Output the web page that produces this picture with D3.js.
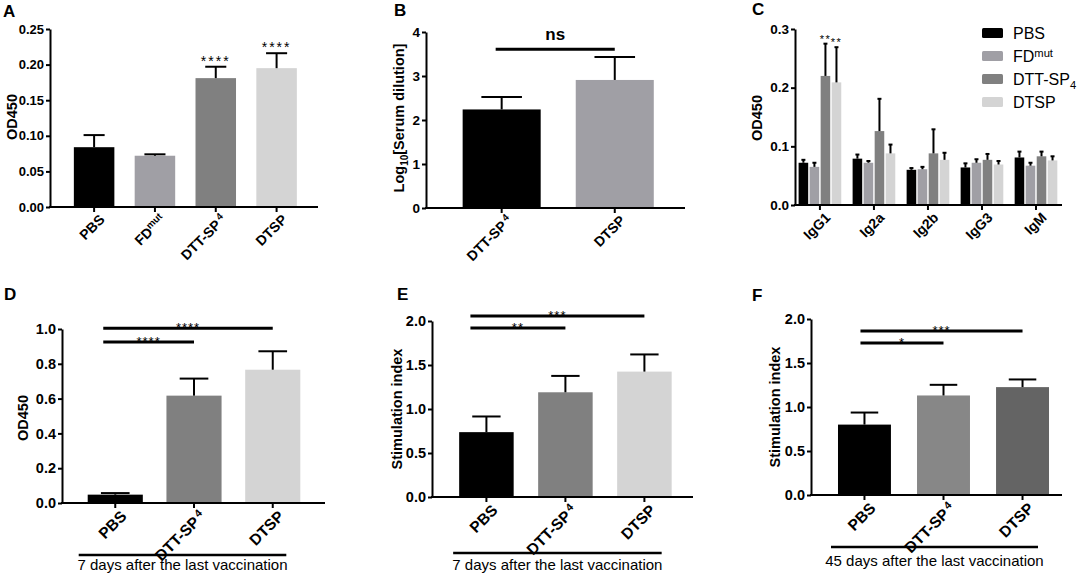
<!DOCTYPE html>
<html>
<head>
<meta charset="utf-8">
<script src="https://cdn.jsdelivr.net/npm/d3@7"></script>
<style>
  body { margin: 0; background: #fff; }
  svg { font-family: "Liberation Sans", Arial, sans-serif; }
</style>
</head>
<body>
<div class="chart"></div>
<script>
// values (bar = mean, err = top of the SEM bar)

// A - OD450
const catA = ["PBS", "FDmut", "DTT-SP4", "DTSP"];
const meanA = [0.084, 0.072, 0.181, 0.195];
const errA = [0.101, 0.074, 0.197, 0.216];
const starsA = ["", "", "****", "****"];

// B - Log10[Serum dilution]
const catB = ["DTT-SP4", "DTSP"];
const meanB = [2.24, 2.91];
const errB = [2.52, 3.43];
const sigB = [{from: "DTT-SP4", to: "DTSP", at: 3.61, text: "ns"}];

// C - subclasses, one array per group of mice
const groupsC = ["IgG1", "Ig2a", "Ig2b", "IgG3", "IgM"];
const seriesC = ["PBS", "FDmut", "DTT-SP4", "DTSP"];
const pbsC = [0.072, 0.079, 0.060, 0.064, 0.081];
const pbsErrC = [0.077, 0.086, 0.063, 0.071, 0.091];
const fdC = [0.065, 0.072, 0.061, 0.072, 0.067];
const fdErrC = [0.072, 0.075, 0.065, 0.078, 0.072];
const dttC = [0.220, 0.126, 0.088, 0.077, 0.083];
const dttErrC = [0.275, 0.181, 0.129, 0.087, 0.091];
const dtspC = [0.209, 0.088, 0.077, 0.069, 0.076];
const dtspErrC = [0.269, 0.103, 0.089, 0.075, 0.083];
const starsC = [["", "", "**", "**"], ["", "", "", ""], ["", "", "", ""], ["", "", "", ""], ["", "", "", ""]];

// D - OD450, 7 days
const catD = ["PBS", "DTT-SP4", "DTSP"];
const meanD = [0.048, 0.617, 0.766];
const errD = [0.057, 0.715, 0.872];
const sigD = [{from: "PBS", to: "DTSP", at: 1.005, text: "****"},
              {from: "PBS", to: "DTT-SP4", at: 0.925, text: "****"}];
const noteD = "7 days after the last vaccination";

// E - stimulation index, 7 days
const catE = ["PBS", "DTT-SP4", "DTSP"];
const meanE = [0.737, 1.19, 1.425];
const errE = [0.915, 1.376, 1.62];
const sigE = [{from: "PBS", to: "DTSP", at: 2.057, text: "***"},
              {from: "PBS", to: "DTT-SP4", at: 1.92, text: "**"}];
const noteE = "7 days after the last vaccination";

// F - stimulation index, 45 days
const catF = ["PBS", "DTT-SP4", "DTSP"];
const meanF = [0.80, 1.131, 1.226];
const errF = [0.937, 1.252, 1.313];
const sigF = [{from: "PBS", to: "DTSP", at: 1.864, text: "***"},
              {from: "PBS", to: "DTT-SP4", at: 1.727, text: "*"}];
const noteF = "45 days after the last vaccination";

const BLACK = "#000000", FDGREY = "#a09fa5", MIDGREY = "#808080", LIGHTGREY = "#d4d4d4";

const svg = d3.select(".chart").append("svg")
    .attr("width", 1079)
    .attr("height", 577);

// label text with a raised (or lowered) tail, e.g. FD^mut, DTT-SP4
function writeLabel(sel, key, mode) {
    let head = key, tail = null;
    if (key === "FDmut") { head = "FD"; tail = "mut"; }
    else if (key === "DTT-SP4") { head = "DTT-SP"; tail = "4"; }
    sel.append("tspan").text(head);
    if (tail) {
        sel.append("tspan")
            .attr("font-size", "70%")
            .attr("dy", mode === "sub" ? "4px" : "-5px")
            .attr("dx", key === "DTT-SP4" && mode !== "sub" ? "2px" : "0px")
            .text(tail);
    }
}

function yAxis(g, cfg, y) {
    const ax = d3.axisLeft(y)
        .tickValues(cfg.ticks)
        .tickFormat(d3.format(cfg.fmt))
        .tickSize(4)
        .tickPadding(2)
        .tickSizeOuter(0);
    const a = g.append("g")
        .attr("transform", "translate(" + cfg.x0 + ",0)")
        .call(ax);
    a.select(".domain").attr("stroke-width", 2);
    a.selectAll(".tick line").attr("stroke-width", 2);
    a.selectAll(".tick text")
        .attr("font-size", cfg.tickFont)
        .attr("font-weight", "bold")
        .attr("font-family", "Liberation Sans, Arial, sans-serif")
        .attr("fill", "#000");
}

function xAxis(g, cfg, centers, labels) {
    g.append("line")
        .attr("x1", cfg.x0 - 1).attr("x2", cfg.x1)
        .attr("y1", cfg.y0).attr("y2", cfg.y0)
        .attr("stroke", "#000").attr("stroke-width", 2);
    g.selectAll(".xtick")
        .data(centers)
        .enter().append("line")
        .attr("class", "xtick")
        .attr("x1", d => d).attr("x2", d => d)
        .attr("y1", cfg.y0).attr("y2", cfg.y0 + 5)
        .attr("stroke", "#000").attr("stroke-width", 2);
    centers.forEach((cx, i) => {
        const t = g.append("text")
            .attr("transform", "translate(" + (cx + 4) + "," + (cfg.y0 + 6) + ") rotate(-45)")
            .attr("dy", "0.75em")
            .attr("text-anchor", "end")
            .attr("font-size", cfg.catFont)
            .attr("font-weight", "bold");
        writeLabel(t, labels[i], "super");
    });
}

function titles(g, cfg) {
    g.append("text")
        .attr("x", cfg.letter[0]).attr("y", cfg.letter[1])
        .attr("font-size", 17).attr("font-weight", "bold")
        .text(cfg.name);
    const t = g.append("text")
        .attr("transform", "translate(" + cfg.ylab[0] + "," + cfg.ylab[1] + ") rotate(-90)")
        .attr("dy", "0.35em")
        .attr("text-anchor", "middle")
        .attr("font-size", 14.5)
        .attr("font-weight", "bold");
    if (cfg.ytitle === "log") {
        t.append("tspan").text("Log");
        t.append("tspan").attr("font-size", 10).attr("dy", "4px").text("10");
        t.append("tspan").attr("dy", "-4px").text("[Serum dilution]");
    } else {
        t.text(cfg.ytitle);
    }
}

function errorBar(g, x, w, yTop, yEnd, capW) {
    g.append("line")
        .attr("x1", x).attr("x2", x)
        .attr("y1", yTop).attr("y2", yEnd)
        .attr("stroke", "#000").attr("stroke-width", 2);
    g.append("line")
        .attr("x1", x - capW / 2).attr("x2", x + capW / 2)
        .attr("y1", yEnd).attr("y2", yEnd)
        .attr("stroke", "#000").attr("stroke-width", 2);
}

function drawPanel(cfg) {
    const g = svg.append("g");
    const x = d3.scaleBand()
        .domain(cfg.cats)
        .range([cfg.x0, cfg.x1])
        .paddingInner(cfg.pi)
        .paddingOuter(cfg.po)
        .align(cfg.align);
    const y = d3.scaleLinear()
        .domain([0, cfg.max])
        .range([cfg.y0, cfg.yTop]);
    const bw = x.bandwidth();

    g.selectAll(".bar")
        .data(cfg.cats)
        .enter().append("rect")
        .attr("class", "bar")
        .attr("x", d => x(d))
        .attr("y", (d, i) => y(cfg.means[i]))
        .attr("width", bw)
        .attr("height", (d, i) => cfg.y0 - y(cfg.means[i]))
        .attr("fill", (d, i) => cfg.colors[i]);

    cfg.cats.forEach((c, i) => {
        errorBar(g, x(c) + bw / 2, bw, y(cfg.means[i]), y(cfg.errs[i]), bw * 0.52);
        if (cfg.stars && cfg.stars[i]) {
            g.append("text")
                .attr("x", x(c) + bw / 2)
                .attr("y", y(cfg.errs[i]) - 1)
                .attr("text-anchor", "middle")
                .attr("font-size", 14)
                .attr("letter-spacing", "2px")
                .text(cfg.stars[i]);
        }
    });

    if (cfg.sig) {
        cfg.sig.forEach(s => {
            const xa = x(s.from) + bw / 2 + cfg.lead;
            const xb = x(s.to) + bw / 2;
            const ys = y(s.at);
            g.append("line")
                .attr("x1", xa).attr("x2", xb)
                .attr("y1", ys).attr("y2", ys)
                .attr("stroke", "#000").attr("stroke-width", 3);
            const big = s.text === "ns";
            g.append("text")
                .attr("x", (xa + xb) / 2)
                .attr("y", big ? ys - 9 : ys + 4)
                .attr("text-anchor", "middle")
                .attr("font-size", big ? 17 : 13)
                .attr("font-weight", big ? "bold" : "normal")
                .attr("letter-spacing", big ? "0px" : "1px")
                .text(s.text);
        });
    }

    yAxis(g, cfg, y);
    xAxis(g, cfg, cfg.cats.map(c => x(c) + bw / 2), cfg.cats);
    titles(g, cfg);

    if (cfg.note) {
        const xa = x(cfg.cats[0]) + cfg.bracket[0];
        const xb = x(cfg.cats[cfg.cats.length - 1]) + bw + cfg.bracket[1];
        g.append("line")
            .attr("x1", xa).attr("x2", xb)
            .attr("y1", cfg.bracket[2]).attr("y2", cfg.bracket[2])
            .attr("stroke", "#000").attr("stroke-width", 2.5);
        g.append("text")
            .attr("x", (xa + xb) / 2)
            .attr("y", cfg.bracket[3])
            .attr("text-anchor", "middle")
            .attr("font-size", 15)
            .text(cfg.note);
    }
}

function drawGrouped(cfg) {
    const g = svg.append("g");
    const x0 = d3.scaleBand()
        .domain(cfg.groups)
        .range([cfg.x0, cfg.x1])
        .paddingInner(cfg.pi)
        .paddingOuter(cfg.po)
        .align(cfg.align);
    const x1 = d3.scaleBand()
        .domain(cfg.series)
        .range([0, x0.bandwidth()])
        .padding(0.13);
    const y = d3.scaleLinear()
        .domain([0, cfg.max])
        .range([cfg.y0, cfg.yTop]);
    const bw = x1.bandwidth();

    cfg.series.forEach((s, si) => {
        g.selectAll(".bar-" + si)
            .data(cfg.groups)
            .enter().append("rect")
            .attr("x", d => x0(d) + x1(s))
            .attr("y", (d, gi) => y(cfg.means[si][gi]))
            .attr("width", bw)
            .attr("height", (d, gi) => cfg.y0 - y(cfg.means[si][gi]))
            .attr("fill", cfg.colors[si]);
        cfg.groups.forEach((grp, gi) => {
            const cx = x0(grp) + x1(s) + bw / 2;
            errorBar(g, cx, bw, y(cfg.means[si][gi]), y(cfg.errs[si][gi]), 4);
            if (cfg.stars[gi][si]) {
                g.append("text")
                    .attr("x", cx)
                    .attr("y", y(cfg.errs[si][gi]) - 1)
                    .attr("text-anchor", "middle")
                    .attr("font-size", 11)
                    .attr("letter-spacing", "1.5px")
                    .text(cfg.stars[gi][si]);
            }
        });
    });

    yAxis(g, cfg, y);
    // group labels are plain text
    g.append("line")
        .attr("x1", cfg.x0 - 1).attr("x2", cfg.x1)
        .attr("y1", cfg.y0).attr("y2", cfg.y0)
        .attr("stroke", "#000").attr("stroke-width", 2);
    cfg.groups.forEach(grp => {
        const cx = x0(grp) + x0.bandwidth() / 2;
        g.append("line")
            .attr("x1", cx).attr("x2", cx)
            .attr("y1", cfg.y0).attr("y2", cfg.y0 + 5)
            .attr("stroke", "#000").attr("stroke-width", 2);
        g.append("text")
            .attr("transform", "translate(" + (cx + 4) + "," + (cfg.y0 + 6) + ") rotate(-45)")
            .attr("dy", "0.75em")
            .attr("text-anchor", "end")
            .attr("font-size", cfg.catFont)
            .attr("font-weight", "bold")
            .text(grp);
    });
    titles(g, cfg);

    // legend
    const leg = g.append("g");
    cfg.series.forEach((s, si) => {
        const ly = cfg.legend[1] + si * 23;
        leg.append("rect")
            .attr("x", cfg.legend[0]).attr("y", ly - 5)
            .attr("width", 21).attr("height", 10)
            .attr("rx", 1.5)
            .attr("fill", cfg.colors[si]);
        const t = leg.append("text")
            .attr("x", cfg.legend[0] + 31).attr("y", ly)
            .attr("dy", "0.35em")
            .attr("font-size", 16);
        if (s === "FDmut") writeLabel(t, s, "super");
        else writeLabel(t, s, "sub");
    });
}

drawPanel({
    name: "A", letter: [3, 17], ylab: [12, 117], ytitle: "OD450",
    cats: catA, means: meanA, errs: errA, stars: starsA,
    colors: [BLACK, FDGREY, MIDGREY, LIGHTGREY],
    x0: 50, x1: 318, y0: 207, yTop: 29, max: 0.25,
    ticks: [0, 0.05, 0.10, 0.15, 0.20, 0.25], fmt: ".2f", tickFont: 13, catFont: 14,
    pi: 0.334, po: 0.37, align: 0.53
});

drawPanel({
    name: "B", letter: [394, 16], ylab: [399, 118], ytitle: "log",
    cats: catB, means: meanB, errs: errB, sig: sigB, lead: -6,
    colors: [BLACK, FDGREY],
    x0: 426, x1: 685, y0: 208, yTop: 32, max: 4,
    ticks: [0, 1, 2, 3, 4], fmt: "d", tickFont: 13.5, catFont: 14,
    pi: 0.31, po: 0.30, align: 0.54
});

drawGrouped({
    name: "C", letter: [752, 15], ylab: [757, 118], ytitle: "OD450",
    groups: groupsC, series: seriesC,
    means: [pbsC, fdC, dttC, dtspC], errs: [pbsErrC, fdErrC, dttErrC, dtspErrC],
    stars: starsC,
    colors: [BLACK, FDGREY, MIDGREY, LIGHTGREY],
    x0: 795, x1: 1062, y0: 205, yTop: 29, max: 0.3,
    ticks: [0, 0.1, 0.2, 0.3], fmt: ".1f", tickFont: 13.5, catFont: 14,
    pi: 0.157, po: 0.05, align: 0.4,
    legend: [982, 33]
});

drawPanel({
    name: "D", letter: [4, 300], ylab: [23, 418], ytitle: "OD450",
    cats: catD, means: meanD, errs: errD, sig: sigD, lead: -12,
    colors: [BLACK, MIDGREY, LIGHTGREY],
    x0: 62, x1: 325, y0: 503, yTop: 329, max: 1,
    ticks: [0, 0.2, 0.4, 0.6, 0.8, 1.0], fmt: ".1f", tickFont: 14.5, catFont: 15.5,
    pi: 0.30, po: 0.32, align: 0.51,
    note: noteD, bracket: [-9, -14, 555, 570]
});

drawPanel({
    name: "E", letter: [397, 300], ylab: [397, 409], ytitle: "Stimulation index",
    cats: catE, means: meanE, errs: errE, sig: sigE, lead: -16,
    colors: [BLACK, MIDGREY, LIGHTGREY],
    x0: 432, x1: 693, y0: 497, yTop: 321, max: 2,
    ticks: [0, 0.5, 1.0, 1.5, 2.0], fmt: ".1f", tickFont: 14.5, catFont: 15.5,
    pi: 0.31, po: 0.307, align: 0.56,
    note: noteE, bracket: [-6, -10, 553, 570]
});

drawPanel({
    name: "F", letter: [752, 301], ylab: [775, 407], ytitle: "Stimulation index",
    cats: catF, means: meanF, errs: errF, sig: sigF, lead: -4,
    colors: [BLACK, "#878787", "#646464"],
    x0: 811, x1: 1062, y0: 495, yTop: 319, max: 2,
    ticks: [0, 0.5, 1.0, 1.5, 2.0], fmt: ".1f", tickFont: 14.5, catFont: 15.5,
    pi: 0.33, po: 0.253, align: 0.675,
    note: noteF, bracket: [-7, -11, 547, 566]
});
</script>
</body>
</html>
